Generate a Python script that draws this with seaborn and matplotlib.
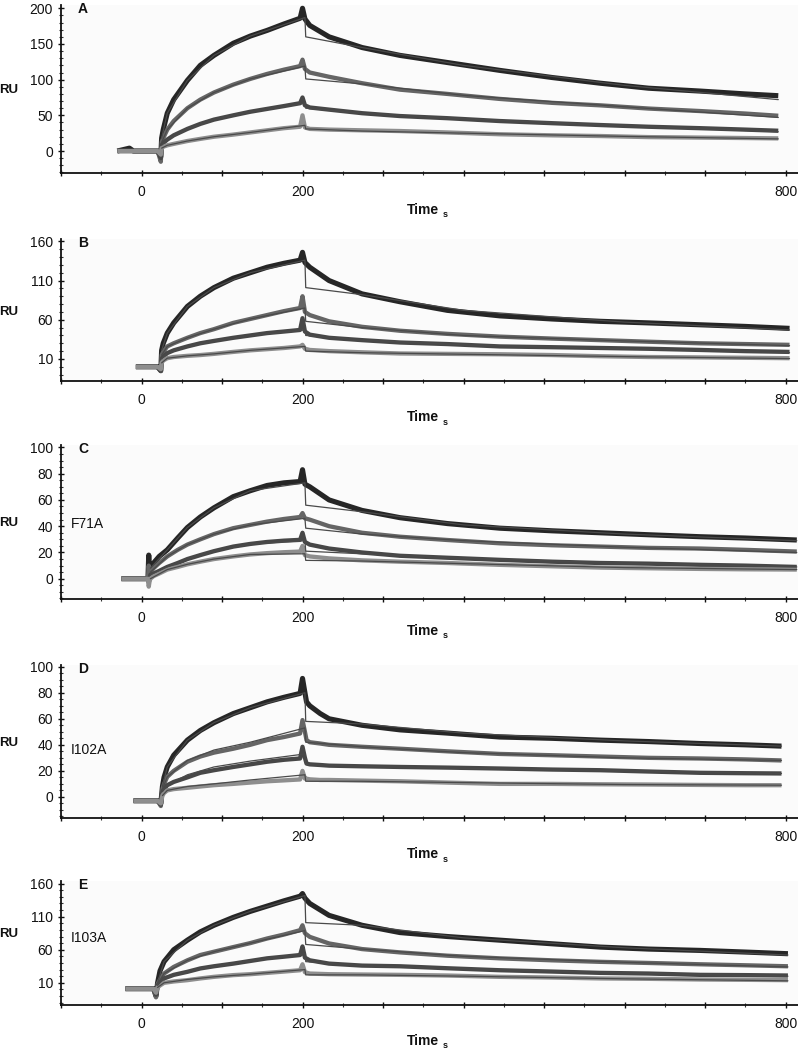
import matplotlib
matplotlib.use("Agg")
import matplotlib.pyplot as plt
import seaborn as sns
from matplotlib.ticker import FixedLocator, MultipleLocator, FuncFormatter

sns.set_style("ticks")
plt.rcParams['font.family'] = ['Liberation Sans', 'DejaVu Sans']

# ---------------- Panel A ----------------
tA = [-30, -15, -10, 20, 24, 25, 27, 32, 40, 57, 73, 90, 114, 135, 156, 177, 197, 200, 203, 209,
      233, 274, 321, 380, 445, 510, 570, 630, 694, 750, 791]
A_s1 = [0, 4, 0, 0, -8, 18, 30, 53, 72, 99, 120, 134, 151, 161, 169, 178, 186, 200, 185, 176,
        160, 145, 134, 124, 113, 103, 95, 88, 84, 80, 77.5]
A_s2 = [0, 0, 0, 0, -15, 12, 18, 30, 42, 60, 72, 82, 93, 101, 108, 114, 119, 128, 115, 110,
        104, 95, 86, 80, 73, 67.5, 64, 59.5, 56, 52.5, 49.4]
A_s3 = [0, 0, 0, 0, -10, 8, 11, 16, 22, 31, 38, 44, 50, 55, 59, 63, 67, 75, 64, 61,
        58, 53, 49, 46, 42, 39, 36.4, 34, 32, 30, 28.4]
A_s4 = [0, 0, 0, 0, -5, 4, 6, 8, 10, 14, 17, 20, 23, 26, 29, 32, 34, 50, 33, 31,
        30, 29, 28, 26, 23.5, 22, 21, 19.5, 18.8, 18.2, 17.7]
tfA = [25, 32, 57, 90, 135, 203, 204, 274, 400, 600, 791]
fA1 = [18, 53, 99, 134, 161, 187, 160, 145, 120, 92, 72]
fA2 = [12, 30, 60, 82, 101, 119, 101, 94, 78, 62, 47]
fA3 = [8, 16, 31, 44, 55, 67, 60, 53, 45, 35.5, 27]
fA4 = [4, 8, 14, 20, 26, 36, 31, 28, 25, 20.5, 17]

# ---------------- Panel B ----------------
tB = [-7, 20, 24, 25, 27, 32, 40, 57, 73, 90, 114, 135, 156, 177, 197, 200, 203, 209, 233, 274,
      321, 380, 445, 510, 570, 630, 694, 750, 805]
B_s1 = [0, 0, -5, 21, 30, 43, 56, 77, 90, 101, 113, 120, 127, 132, 136, 146, 133, 127, 110, 93,
        83, 72, 65, 61, 58, 56, 53.6, 51.5, 49]
B_s2 = [0, 0, -5, 15, 19, 26, 30, 37, 43, 48, 56, 61, 66, 71, 75, 90, 70, 66, 58, 51,
        46, 42, 38.5, 36, 34, 32, 30, 29, 28]
B_s3 = [0, 0, -5, 10, 13, 17.5, 21, 26, 30, 33, 37, 40, 43, 45, 47, 62, 45, 41, 37, 34,
        31, 29, 26, 25, 24, 23, 21.5, 20, 19]
B_s4 = [0, 0, -3, 5, 8, 11, 12.5, 14, 15, 16.5, 19, 21, 22.5, 24, 26, 28, 23, 21.5, 20, 18.5,
        17, 16.5, 16, 15, 13.5, 12.5, 12, 11.5, 11]
tfB = [25, 32, 57, 90, 135, 203, 204, 274, 400, 600, 805]
fB1 = [21, 43, 77, 101, 120, 136, 101, 92, 72, 57, 47]
fB2 = [15, 26, 37, 48, 61, 75, 58, 50, 40, 33, 27]
fB3 = [10, 17.5, 26, 33, 40, 47, 40, 34, 28, 23, 18]
fB4 = [5, 11, 14, 16.5, 21, 26, 20, 18, 16, 13, 10.5]

# ---------------- Panel C ----------------
tC = [-25, 0, 8, 9, 10, 11, 15, 22, 32, 45, 57, 73, 90, 114, 135, 156, 177, 197, 200, 203,
      209, 233, 274, 321, 380, 445, 510, 570, 630, 694, 750, 814]
C_s1 = [0, 0, 0, 18, 3, 8, 12, 17, 22, 31, 39, 47, 54, 62.5, 67, 71, 73, 74, 83, 72,
        70, 60, 52, 46.5, 42, 38.5, 36.5, 35, 33.5, 32, 31, 29.5]
C_s2 = [0, 0, 0, 10, 3, 5, 8, 12, 17, 22, 26, 30, 34, 38.5, 41, 43.5, 45.5, 47, 50, 46,
        45, 40, 35, 32, 29.5, 27, 25.5, 24.5, 23.5, 23, 22, 20.7]
C_s3 = [0, 0, 0, -3, 0, 3, 4, 6, 9, 12, 15, 18, 21, 24.5, 26.5, 28, 29, 29.6, 35, 28,
        26, 23, 20, 17.5, 16, 14.4, 13, 12, 11.5, 10.6, 10, 9]
C_s4 = [0, 0, 0, -6, -2, 0, 2, 4, 7, 9, 11, 13, 15, 17, 18.5, 19.5, 20.2, 20.7, 25, 18,
        17, 15.5, 14, 13, 12, 10.6, 9.5, 8.5, 8, 7.5, 7.2, 7]
tfC = [11, 32, 57, 90, 135, 203, 204, 274, 400, 600, 814]
fC1 = [8, 22, 39, 54, 67, 73, 56, 51, 41, 34, 29]
fC2 = [5, 17, 26, 34, 41, 46, 38.5, 34, 29, 24, 20]
fC3 = [3, 9, 15, 21, 26.5, 29, 21, 19, 15.5, 12, 9]
fC4 = [0, 7, 11, 15, 18.5, 19, 14, 13.5, 11.5, 8.5, 7]

# ---------------- Panel D ----------------
tD = [-10, 20, 24, 26, 28, 32, 40, 57, 73, 90, 114, 135, 156, 177, 197, 200, 203, 205, 209, 222,
      233, 274, 321, 380, 445, 510, 570, 630, 694, 750, 795]
D_s1 = [-3, -3, -5, 8, 15, 23, 32, 43.6, 51, 57, 64, 68.5, 73, 76.5, 79.5, 91, 80, 73, 70, 64,
        60, 55, 51.5, 49, 46, 45, 43.6, 42.5, 41, 40, 39]
D_s2 = [-3, -3, -7, 6, 10, 15.4, 20, 27, 31, 34, 37, 40, 43.6, 46, 48.7, 59, 50, 43.6, 42, 41,
        40, 38.5, 37, 35, 33, 32, 31, 30, 29.5, 28.8, 28]
D_s3 = [-3, -3, -6, 4, 6, 9, 11.5, 15, 18.5, 20.5, 23, 25, 27, 28.5, 29.5, 38.5, 30, 25.6, 25, 24.5,
        24, 23.5, 23, 22.5, 21.8, 21, 20.5, 19.5, 18.5, 18.2, 18]
D_s4 = [-3, -3, -5, 1, 3, 5, 6, 7, 8, 9, 10, 11, 12, 12.7, 13.4, 20, 14, 14, 13.5, 13,
        13, 12.5, 12, 11, 10, 10, 9.7, 9.5, 9.2, 9, 9]
tfD = [26, 32, 57, 90, 135, 203, 204, 274, 400, 600, 795]
fD1 = [8, 23, 43.6, 57, 68.5, 80, 58, 56, 49, 43, 39]
fD2 = [6, 15.4, 28, 36, 42, 53, 42, 38.5, 34, 30, 28]
fD3 = [4, 9, 17, 23, 27.5, 33, 25, 23.5, 22, 20, 18]
fD4 = [1, 5, 8, 10, 13, 17, 12, 12, 11, 9.5, 9]

# ---------------- Panel E ----------------
tE = [-20, 15, 18, 20, 23, 28, 40, 57, 73, 90, 114, 135, 156, 177, 197, 200, 203, 209, 233, 274,
      321, 380, 445, 510, 570, 630, 694, 750, 803]
E_s1 = [1, 1, -10, 10, 28, 42, 60, 74.5, 87, 97, 109, 118, 126, 134, 141, 145, 138, 130, 112, 97,
        86, 80, 74.5, 69, 64, 61, 59, 56.5, 54]
E_s2 = [1, 1, -12, 8, 15, 24, 34, 44, 52, 57, 64, 70, 77, 83, 89.6, 97, 85, 79.5, 69.5, 61,
        56, 51, 47, 44, 41.7, 40, 38, 36.5, 35]
E_s3 = [1, 1, -8, 6, 10, 16.6, 22, 26.6, 31.7, 35, 39, 43, 47, 49.5, 52, 65, 48, 44, 39, 36,
        35, 32, 29, 27, 25, 24, 22, 21.6, 21]
E_s4 = [1, 1, -5, 3, 6, 10, 12, 14, 16.6, 19, 21.6, 23, 25, 27, 29, 38, 26, 24, 23, 22.5,
        22, 21, 19, 18, 16.6, 16, 15, 14.5, 14]
tfE = [20, 28, 57, 90, 135, 203, 204, 274, 400, 600, 803]
fE1 = [10, 42, 74.5, 97, 118, 142, 101, 97, 78, 63, 52]
fE2 = [8, 24, 44, 57, 70, 89, 68, 61, 50, 41, 34]
fE3 = [6, 16.6, 27, 35, 43, 54, 42, 36, 31, 25, 20]
fE4 = [3, 10, 15, 19, 23, 30, 22, 22, 20, 16, 13]

panel_letters = ["A", "B", "C", "D", "E"]
mutant_labels = ["", "", "F71A", "I102A", "I103A"]
x_tick_labels = ["0", "200", "800"]

# ---------------- layout (figure pixels) ----------------
W, H = 798, 1050
series_colors = ["#262626", "#656565", "#474747", "#8e8e8e"]
series_lw = [3.7, 3.1, 3.1, 3.1]
fit_color = "#4a4a4a"

panels = [
    dict(t=tA, s=[A_s1, A_s2, A_s3, A_s4], tf=tfA, f=[fA1, fA2, fA3, fA4],
         top=5, bot=173, ylim=(-30.8, 204.6), yt=[0, 50, 100, 150, 200], ym=10, ylab=None),
    dict(t=tB, s=[B_s1, B_s2, B_s3, B_s4], tf=tfB, f=[fB1, fB2, fB3, fB4],
         top=239, bot=381, ylim=(-18.1, 163), yt=[10, 60, 110, 160], ym=10, ylab=None),
    dict(t=tC, s=[C_s1, C_s2, C_s3, C_s4], tf=tfC, f=[fC1, fC2, fC3, fC4],
         top=445, bot=599, ylim=(-15.4, 101.8), yt=[0, 20, 40, 60, 80, 100], ym=5, ylab=42),
    dict(t=tD, s=[D_s1, D_s2, D_s3, D_s4], tf=tfD, f=[fD1, fD2, fD3, fD4],
         top=665, bot=818, ylim=(-16.2, 101.3), yt=[0, 20, 40, 60, 80, 100], ym=5, ylab=36),
    dict(t=tE, s=[E_s1, E_s2, E_s3, E_s4], tf=tfE, f=[fE1, fE2, fE3, fE4],
         top=881, bot=1005, ylim=(-23.6, 164), yt=[10, 60, 110, 160], ym=10, ylab=78),
]
ru_y = [90, 312, 523, 743, 934]
time_y = [210, 417, 631, 854, 1041]

fig = plt.figure(figsize=(W / 100, H / 100), dpi=100)
left_px, right_px = 61, 798

for i, p in enumerate(panels):
    ax = fig.add_axes([left_px / W, 1 - p["bot"] / H, (right_px - left_px) / W, (p["bot"] - p["top"]) / H])
    ax.set_facecolor("#fbfbfb")
    for vals, c, lw in zip(p["s"], series_colors, series_lw):
        sns.lineplot(x=p["t"], y=vals, ax=ax, color=c, lw=lw, sort=False, estimator=None,
                     solid_joinstyle="round", solid_capstyle="butt")
    for vals in p["f"]:
        sns.lineplot(x=p["tf"], y=vals, ax=ax, color=fit_color, lw=0.9, sort=False, estimator=None)

    ax.set_xlim(-100, 815.5)
    ax.set_ylim(*p["ylim"])
    ax.xaxis.set_major_locator(FixedLocator(list(range(-100, 801, 100))))
    ax.xaxis.set_minor_locator(FixedLocator(list(range(-50, 801, 100))))
    ax.xaxis.set_major_formatter(FuncFormatter(lambda v, pos: str(int(v)) if str(int(v)) in x_tick_labels else ""))
    ax.yaxis.set_major_locator(FixedLocator(p["yt"]))
    ax.yaxis.set_minor_locator(MultipleLocator(p["ym"]))
    ax.tick_params(axis="both", which="major", direction="inout", length=4.3, width=1.0,
                   labelsize=10, color="#111111", labelcolor="#111111")
    ax.tick_params(axis="x", which="major", pad=6.5)
    ax.tick_params(axis="y", which="major", pad=3.6)
    ax.tick_params(axis="both", which="minor", direction="inout", length=2.4, width=0.8, color="#333333")
    sns.despine(ax=ax)
    for sp in ("left", "bottom"):
        ax.spines[sp].set_linewidth(1.3)
        ax.spines[sp].set_color("#111111")
    ax.set_xlabel("")
    ax.set_ylabel("")

    # panel letter
    fig.text(83 / W, 1 - (p["top"] + 4) / H, panel_letters[i], ha="center", va="center",
             fontsize=10, fontweight="bold", color="#111111")
    # mutant label
    if mutant_labels[i]:
        ax.text(-88, p["ylab"], mutant_labels[i], ha="left", va="center", fontsize=10, color="#111111")
    # RU label
    fig.text(9 / W, 1 - ru_y[i] / H, "RU", ha="center", va="center", fontsize=9.5,
             fontweight="bold", color="#111111")
    # Time label with subscript s
    fig.text(407 / W, 1 - time_y[i] / H, "Time", ha="left", va="center", fontsize=10,
             fontweight="bold", color="#111111")
    fig.text(443 / W, 1 - (time_y[i] + 5) / H, "s", ha="left", va="center", fontsize=6.5,
             fontweight="bold", color="#111111")

fig.savefig("out.png", dpi=100, facecolor="white")
